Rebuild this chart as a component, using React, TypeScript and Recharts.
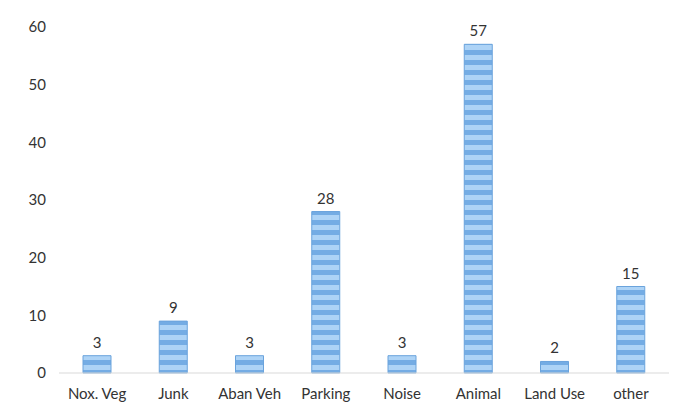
import { Bar, BarChart, LabelList, XAxis, YAxis } from "recharts";

const categories = ["Nox. Veg", "Junk", "Aban Veh", "Parking", "Noise", "Animal", "Land Use", "other"];
const counts = [3, 9, 3, 28, 3, 57, 2, 15];
const yTicks = [0, 10, 20, 30, 40, 50, 60];

const data = categories.map((name, i) => ({ name, count: counts[i] }));

const font = "Lato, 'Open Sans', sans-serif";

const App = () => {
  return (
    <div style={{ position: "absolute", left: 0, top: 0, background: "#fff" }}>
      <BarChart
        width={674}
        height={412}
        data={data}
        margin={{ top: 27, right: 5, left: 9, bottom: 9 }}
      >
        <defs>
          <pattern id="stripes" width="10" height="10" patternUnits="userSpaceOnUse">
            <rect width="10" height="10" fill="#add3f6" />
            <rect width="10" height="5" fill="#74ace4" />
          </pattern>
        </defs>
        <XAxis
          dataKey="name"
          height={30}
          axisLine={{ stroke: "#d9d9d9" }}
          tickLine={false}
          tickMargin={9}
          tick={{ fill: "#333", fontSize: 15, fontFamily: font }}
        />
        <YAxis
          width={50}
          domain={[0, 60]}
          ticks={yTicks}
          axisLine={false}
          tickLine={false}
          tickSize={0}
          tickMargin={13}
          tick={{ fill: "#333", fontSize: 15, fontFamily: font }}
        />
        <Bar
          dataKey="count"
          barSize={28}
          fill="url(#stripes)"
          stroke="#6aa3dc"
          strokeWidth={1}
          isAnimationActive={false}
        >
          <LabelList
            dataKey="count"
            position="top"
            offset={8}
            style={{ fill: "#333", fontSize: 15, fontFamily: font }}
          />
        </Bar>
      </BarChart>
    </div>
  );
};

export default App;
